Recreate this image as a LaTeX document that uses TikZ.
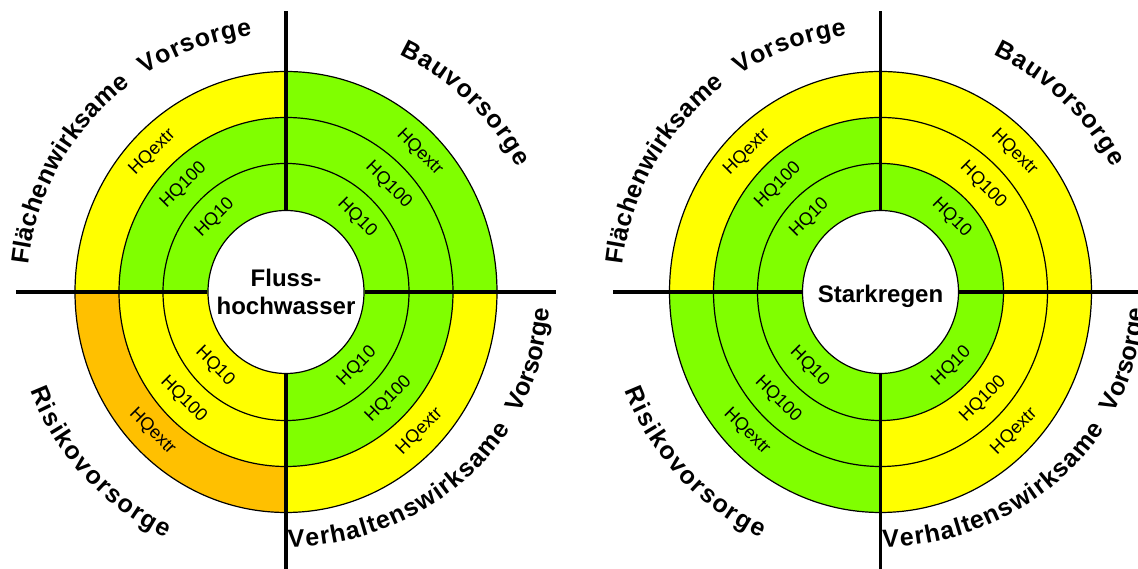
\documentclass[tikz,border=0pt]{standalone}
\usepackage{fontspec}
\setmainfont{Liberation Sans}
\usetikzlibrary{decorations.text,shapes.geometric}
\definecolor{ringgreen}{RGB}{128,255,0}
\definecolor{ringyellow}{RGB}{255,255,0}
\definecolor{ringorange}{RGB}{255,192,0}
\newcommand\curvefont{\fontsize{25}{30}\selectfont\bfseries}
\tikzset{%
  % Specifications for style of rings, cross and labels:
  ringline/.style = {draw=black, line width=1.2pt},
  axis/.style = {draw=black, line width=3.5pt},
  hub/.style = {ellipse, draw=black, line width=1.2pt, fill=white,
    minimum width=156pt, minimum height=163pt, inner sep=-20pt,
    align=center, font=\fontsize{24}{28}\selectfont\bfseries},
  hq/.style = {font=\fontsize{18}{20}\selectfont, inner sep=0pt},
  bendtext/.style = {decorate, decoration={text along path,
    text align=fit to path, text={|\curvefont|#1}}},
}

\begin{document}
\begin{tikzpicture}[x=1pt, y=1pt]
  \useasboundingbox (0,0) rectangle (1138,569);
  % Flusshochwasser
  \begin{scope}[shift={(286,277)}]
    \begin{scope}[yscale=1.045]
      \foreach \a/\b/\cx/\cy/\cz in {0/90/ringgreen/ringgreen/ringgreen,
          90/180/ringgreen/ringgreen/ringyellow,
          180/270/ringyellow/ringyellow/ringorange,
          270/360/ringgreen/ringgreen/ringyellow}{
        \fill[\cx] (\a:78) arc[start angle=\a, end angle=\b, radius=78]
          -- (\b:123) arc[start angle=\b, end angle=\a, radius=123] -- cycle;
        \fill[\cy] (\a:123) arc[start angle=\a, end angle=\b, radius=123]
          -- (\b:167) arc[start angle=\b, end angle=\a, radius=167] -- cycle;
        \fill[\cz] (\a:167) arc[start angle=\a, end angle=\b, radius=167]
          -- (\b:211) arc[start angle=\b, end angle=\a, radius=211] -- cycle;
      }
      \foreach \r in {123,167,211}
        \draw[ringline] (0,0) circle[radius=\r];
      \foreach \a/\rot in {45/-45,135/45,225/-45,315/45}{
        \node[hq, rotate=\rot] (floodA\a) at (\a:100.5) {HQ10};
        \node[hq, rotate=\rot] (floodB\a) at (\a:145) {HQ100};
        \node[hq, rotate=\rot] (floodC\a) at (\a:189) {HQextr};
      }
    \end{scope}
    \node[hub] (flood) at (0,0) {Fluss-\\hochwasser};
    \coordinate (floodN) at (0,281);
    \coordinate (floodS) at (0,-290);
    \coordinate (floodW) at (-270,0);
    \coordinate (floodE) at (270,0);
    \draw[axis] (flood.north) -- (floodN);
    \draw[axis] (flood.south) -- (floodS);
    \draw[axis] (flood.west) -- (floodW);
    \draw[axis] (flood.east) -- (floodE);
    \path[bendtext=Flächenwirksame] (174:259) arc[start angle=174, end angle=127, radius=259];
    \path[bendtext=Vorsorge] (123:259) arc[start angle=123, end angle=97.5, radius=259];
    \path[bendtext=Bauvorsorge] (64.5:263) arc[start angle=64.5, end angle=28.3, radius=263];
    \path[bendtext=Risikovorsorge] (201:274) arc[start angle=201, end angle=244, radius=274];
    \path[bendtext=Verhaltenswirksame] (270.5:255) arc[start angle=270.5, end angle=327.5, x radius=266, y radius=255];
    \path[bendtext=Vorsorge] (332.5:263) arc[start angle=332.5, end angle=357, x radius=266, y radius=255];
  \end{scope}
  % Starkregen
  \begin{scope}[shift={(880.5,277)}]
    \begin{scope}[yscale=1.045]
      \foreach \a/\b/\cx/\cy/\cz in {0/90/ringgreen/ringyellow/ringyellow,
          90/180/ringgreen/ringgreen/ringyellow,
          180/270/ringgreen/ringgreen/ringgreen,
          270/360/ringgreen/ringyellow/ringyellow}{
        \fill[\cx] (\a:78) arc[start angle=\a, end angle=\b, radius=78]
          -- (\b:123) arc[start angle=\b, end angle=\a, radius=123] -- cycle;
        \fill[\cy] (\a:123) arc[start angle=\a, end angle=\b, radius=123]
          -- (\b:167) arc[start angle=\b, end angle=\a, radius=167] -- cycle;
        \fill[\cz] (\a:167) arc[start angle=\a, end angle=\b, radius=167]
          -- (\b:211) arc[start angle=\b, end angle=\a, radius=211] -- cycle;
      }
      \foreach \r in {123,167,211}
        \draw[ringline] (0,0) circle[radius=\r];
      \foreach \a/\rot in {45/-45,135/45,225/-45,315/45}{
        \node[hq, rotate=\rot] (rainA\a) at (\a:100.5) {HQ10};
        \node[hq, rotate=\rot] (rainB\a) at (\a:145) {HQ100};
        \node[hq, rotate=\rot] (rainC\a) at (\a:189) {HQextr};
      }
    \end{scope}
    \node[hub] (rain) at (0,0) {\raisebox{0pt}[26pt][4.5pt]{Starkregen}};
    \coordinate (rainN) at (0,281);
    \coordinate (rainS) at (0,-290);
    \coordinate (rainW) at (-267.5,0);
    \coordinate (rainE) at (270,0);
    \draw[axis] (rain.north) -- (rainN);
    \draw[axis] (rain.south) -- (rainS);
    \draw[axis] (rain.west) -- (rainW);
    \draw[axis] (rain.east) -- (rainE);
    \path[bendtext=Flächenwirksame] (174:259) arc[start angle=174, end angle=127, radius=259];
    \path[bendtext=Vorsorge] (123:259) arc[start angle=123, end angle=97.5, radius=259];
    \path[bendtext=Bauvorsorge] (64.5:263) arc[start angle=64.5, end angle=28.3, radius=263];
    \path[bendtext=Risikovorsorge] (201:274) arc[start angle=201, end angle=244, radius=274];
    \path[bendtext=Verhaltenswirksame] (270.5:255) arc[start angle=270.5, end angle=327.5, x radius=266, y radius=255];
    \path[bendtext=Vorsorge] (332.5:263) arc[start angle=332.5, end angle=357, x radius=266, y radius=255];
  \end{scope}
\end{tikzpicture}
\end{document}
